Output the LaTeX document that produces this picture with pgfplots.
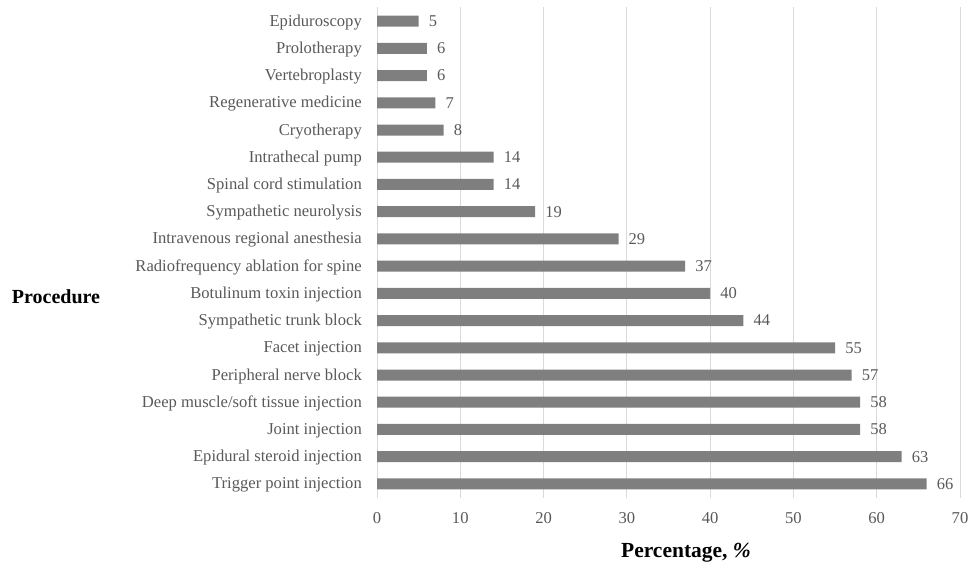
\documentclass[border=0pt]{standalone}
\usepackage{pgfplots}
\pgfplotsset{compat=1.18}
\usepackage{fontspec}
\setmainfont{Liberation Serif}
\definecolor{barc}{HTML}{7F7F7F}
\definecolor{txt}{HTML}{595959}
\definecolor{gridc}{HTML}{D9D9D9}
\begin{document}
\begin{tikzpicture}
\begin{axis}[
 at={(377pt,68.5pt)}, anchor=south west,
 scale only axis, width=583pt, height=490pt,
 xbar, bar width=11pt,
 xmin=0, xmax=70, ymin=-0.5, ymax=17.5,
 xtick={0,10,...,70},
 ytick={0,...,17},
 yticklabels={Trigger point injection,Epidural steroid injection,Joint injection,Deep muscle/soft tissue injection,Peripheral nerve block,Facet injection,Sympathetic trunk block,Botulinum toxin injection,Radiofrequency ablation for spine,Intravenous regional anesthesia,Sympathetic neurolysis,Spinal cord stimulation,Intrathecal pump,Cryotherapy,Regenerative medicine,Vertebroplasty,Prolotherapy,Epiduroscopy},
 axis line style={draw=none},
 major tick length=0pt,
 xmajorgrids, grid style={gridc, line width=1pt},
 tick label style={font=\fontsize{16.6}{19}\selectfont, text=txt},
 /pgf/number format/assume math mode=true,
 xticklabel style={anchor=center, yshift=-20.5pt},
 yticklabel style={anchor=base east, inner sep=0pt, xshift=-15pt, yshift=-5pt},
 nodes near coords,
 nodes near coords style={anchor=west, inner sep=0pt, xshift=10pt, font=\fontsize{16.5}{19}\selectfont, text=txt},
 clip=false,
]
\addplot[fill=barc, draw=none] coordinates {
(66,0) (63,1) (58,2) (58,3) (57,4) (55,5) (44,6) (40,7) (37,8) (29,9) (19,10) (14,11) (14,12) (8,13) (7,14) (6,15) (6,16) (5,17)
};
\end{axis}
\node[font=\bfseries\fontsize{20}{24}\selectfont] at (56pt,269pt) {Procedure};
\node[font=\bfseries\fontsize{21.5}{24}\selectfont] at (686pt,13pt) {Percentage, \textit{\%}};
\pgfresetboundingbox
\path[use as bounding box] (0,0) rectangle (969pt,566pt);
\end{tikzpicture}
\end{document}
